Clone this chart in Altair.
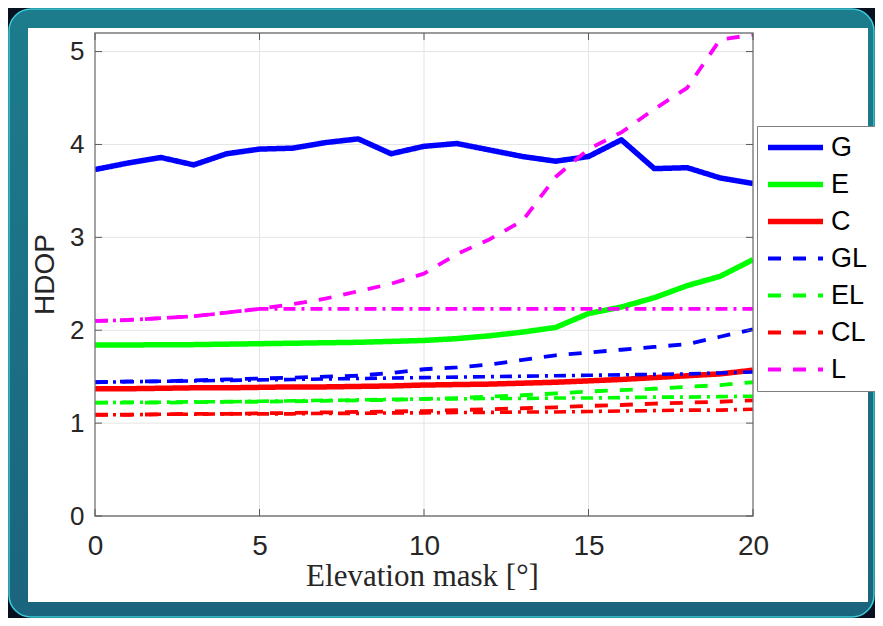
import altair as alt
import pandas as pd

# ---------------- data ----------------
elev = list(range(21))
names = ["G", "E", "C", "GL", "EL", "CL", "L"]

G  = [3.73, 3.80, 3.86, 3.78, 3.90, 3.95, 3.96, 4.02, 4.06, 3.90, 3.98,
      4.01, 3.94, 3.87, 3.82, 3.87, 4.05, 3.74, 3.75, 3.64, 3.58]
E  = [1.84, 1.84, 1.845, 1.845, 1.85, 1.855, 1.86, 1.865, 1.87, 1.88, 1.89,
      1.91, 1.94, 1.98, 2.03, 2.18, 2.25, 2.35, 2.48, 2.58, 2.76]
C  = [1.37, 1.37, 1.375, 1.38, 1.38, 1.385, 1.39, 1.39, 1.395, 1.40, 1.41,
      1.415, 1.42, 1.43, 1.44, 1.455, 1.47, 1.49, 1.51, 1.53, 1.57]
GL = [1.44, 1.45, 1.45, 1.46, 1.47, 1.48, 1.49, 1.50, 1.51, 1.54, 1.58,
      1.60, 1.63, 1.68, 1.73, 1.76, 1.79, 1.82, 1.85, 1.93, 2.01]
EL = [1.22, 1.22, 1.22, 1.225, 1.23, 1.23, 1.235, 1.24, 1.245, 1.25, 1.26,
      1.27, 1.285, 1.30, 1.32, 1.34, 1.355, 1.37, 1.39, 1.41, 1.44]
CL = [1.09, 1.09, 1.095, 1.10, 1.10, 1.105, 1.11, 1.115, 1.12, 1.125, 1.13,
      1.14, 1.15, 1.16, 1.17, 1.185, 1.195, 1.21, 1.22, 1.23, 1.245]
L  = [2.10, 2.11, 2.13, 2.15, 2.19, 2.23, 2.28, 2.34, 2.42, 2.50, 2.61,
      2.82, 2.98, 3.18, 3.65, 3.95, 4.13, 4.38, 4.61, 5.13, 5.18]

# dash-dot reference curves (not in the legend)
G_dd = [1.44, 1.445, 1.45, 1.455, 1.46, 1.465, 1.47, 1.475, 1.48, 1.485, 1.49,
        1.495, 1.50, 1.505, 1.51, 1.515, 1.52, 1.525, 1.53, 1.54, 1.55]
E_dd = [1.22, 1.225, 1.225, 1.23, 1.23, 1.235, 1.24, 1.245, 1.25, 1.255, 1.26,
        1.26, 1.265, 1.265, 1.27, 1.27, 1.275, 1.28, 1.28, 1.285, 1.29]
C_dd = [1.09, 1.09, 1.095, 1.095, 1.10, 1.10, 1.10, 1.105, 1.105, 1.11, 1.11,
        1.115, 1.115, 1.12, 1.12, 1.125, 1.13, 1.135, 1.14, 1.14, 1.15]
L_dd = [2.10, 2.11, 2.13, 2.15, 2.19, 2.23, 2.23, 2.23, 2.23, 2.23, 2.23,
        2.23, 2.23, 2.23, 2.23, 2.23, 2.23, 2.23, 2.23, 2.23, 2.23]

x_ticks = [0, 5, 10, 15, 20]
y_ticks = [0, 1, 2, 3, 4, 5]

# ---------------- styling ----------------
colors = ["#0000ff", "#00ff00", "#ff0000", "#0000ff", "#00ff00", "#ff0000", "#ff00ff"]
dashes = [[1, 0], [1, 0], [1, 0], [13, 12], [13, 12], [13, 12], [13, 12]]
widths = [5.5, 5.5, 5.5, 3.8, 3.8, 3.8, 3.8]
PW, PH = 658, 483

series = {"G": G, "E": E, "C": C, "GL": GL, "EL": EL, "CL": CL, "L": L}
df = pd.DataFrame([{"x": xv, "y": yv, "s": k}
                   for k in names for xv, yv in zip(elev, series[k])])

xscale = alt.Scale(domain=[0, 20], nice=False)
yscale = alt.Scale(domain=[0, 5.2], nice=False)

xaxis = alt.Axis(values=x_ticks, format="d", grid=False, ticks=False, domain=False,
                 labelFontSize=28, labelFont="Liberation Sans", labelColor="#262626",
                 labelPadding=16, labelFlush=False,
                 titleFont="Liberation Serif", titleFontSize=31, titleFontWeight="normal",
                 titleColor="#262626", titleX=327, titleY=69, titleBaseline="alphabetic",
                 titleAlign="center", zindex=1)
yaxis = alt.Axis(values=y_ticks, format="d", grid=False, ticks=False, domain=False,
                 labelFontSize=26, labelFont="Liberation Sans", labelColor="#262626",
                 labelPadding=11,
                 titleFont="Liberation Sans", titleFontSize=28, titleFontWeight="normal",
                 titleColor="#262626", titleAngle=270, titleX=-50, titleY=241,
                 titleAlign="center", titleBaseline="middle", zindex=1)


def X(field):
    return alt.X(field, type="quantitative", scale=xscale, axis=xaxis,
                 title="Elevation mask [°]")


def Y(field):
    return alt.Y(field, type="quantitative", scale=yscale, axis=yaxis, title="HDOP")


one = pd.DataFrame({"a": [0]})

# teal rounded panel
panel = alt.Chart(one).mark_rect(
    cornerRadius=22, stroke="#3ccbdc", strokeWidth=1.5,
    fill=alt.Gradient(gradient="linear",
                      stops=[alt.GradientStop(color="#1c7c8c", offset=0),
                             alt.GradientStop(color="#1b647e", offset=1)],
                      x1=0, x2=0, y1=0, y2=1)
).encode(x=alt.value(-86), x2=alt.value(779), y=alt.value(-24), y2=alt.value(584))

# white figure area
white = alt.Chart(one).mark_rect(fill="white", strokeWidth=0).encode(
    x=alt.value(-67), x2=alt.value(773), y=alt.value(-5), y2=alt.value(569))

xt_df = pd.DataFrame({"xt": x_ticks})
yt_df = pd.DataFrame({"yt": y_ticks})

xgrid = alt.Chart(xt_df).mark_rule(color="#e4e4e4", strokeWidth=1).encode(x=X("xt"))
ygrid = alt.Chart(yt_df).mark_rule(color="#e4e4e4", strokeWidth=1).encode(y=Y("yt"))

lines = alt.Chart(df).mark_line(clip=True, strokeCap="butt", strokeJoin="round").encode(
    x=X("x"), y=Y("y"),
    color=alt.Color("s:N", sort=names,
                    scale=alt.Scale(type="ordinal", domain=names, range=colors),
                    legend=alt.Legend(title=None)),
    strokeDash=alt.StrokeDash("s:N", sort=names,
                              scale=alt.Scale(type="ordinal", domain=names, range=dashes),
                              legend=alt.Legend(title=None)),
    strokeWidth=alt.StrokeWidth("s:N", sort=names,
                                scale=alt.Scale(type="ordinal", domain=names, range=widths),
                                legend=alt.Legend(title=None)),
    order=alt.Order("x:Q"),
)

dd_layers = []
for vals, col in [(G_dd, "#0000ff"), (E_dd, "#00ff00"), (C_dd, "#ff0000"), (L_dd, "#ff00ff")]:
    d = pd.DataFrame({"x": elev, "y": vals})
    dd_layers.append(
        alt.Chart(d).mark_line(clip=True, color=col, strokeWidth=3.6,
                               strokeDash=[12, 6, 3, 6], strokeCap="butt").encode(
            x=X("x"), y=Y("y")))

frame_df = pd.DataFrame({"x0": [0], "x1": [20], "y0": [0], "y1": [5.2]})
frame = alt.Chart(frame_df).mark_rect(filled=False, stroke="#7a7a7a", strokeWidth=1.3).encode(
    x=X("x0"), x2="x1", y=Y("y0"), y2="y1")

tick_col = "#5a5a5a"
xt_bot = alt.Chart(xt_df).mark_rule(color=tick_col, strokeWidth=1).encode(
    x=X("xt"), y=alt.value(PH), y2=alt.value(PH - 7))
xt_top = alt.Chart(xt_df).mark_rule(color=tick_col, strokeWidth=1).encode(
    x=X("xt"), y=alt.value(0), y2=alt.value(7))
yt_left = alt.Chart(yt_df).mark_rule(color=tick_col, strokeWidth=1).encode(
    y=Y("yt"), x=alt.value(0), x2=alt.value(7))
yt_right = alt.Chart(yt_df).mark_rule(color=tick_col, strokeWidth=1).encode(
    y=Y("yt"), x=alt.value(PW), x2=alt.value(PW - 7))

chart = alt.layer(
    panel, white, xgrid, ygrid, lines, *dd_layers, frame, xt_bot, xt_top, yt_left, yt_right
).properties(
    width=PW, height=PH,
    autosize=alt.AutoSizeParams(type="none"),
    padding={"left": 87, "top": 25, "right": 122, "bottom": 102},
    background="#07111f",
).configure_view(stroke=None).configure_legend(
    orient="none", legendX=662, legendY=93,
    symbolType="stroke", symbolSize=3025, labelFontSize=27, labelFont="Liberation Sans",
    labelColor="black", padding=8, strokeColor="#7f7f7f", fillColor="white",
    rowPadding=9, clipHeight=27, labelOffset=5, cornerRadius=0,
)

chart.save("out.html", embed_options={"renderer": "svg", "actions": False})
